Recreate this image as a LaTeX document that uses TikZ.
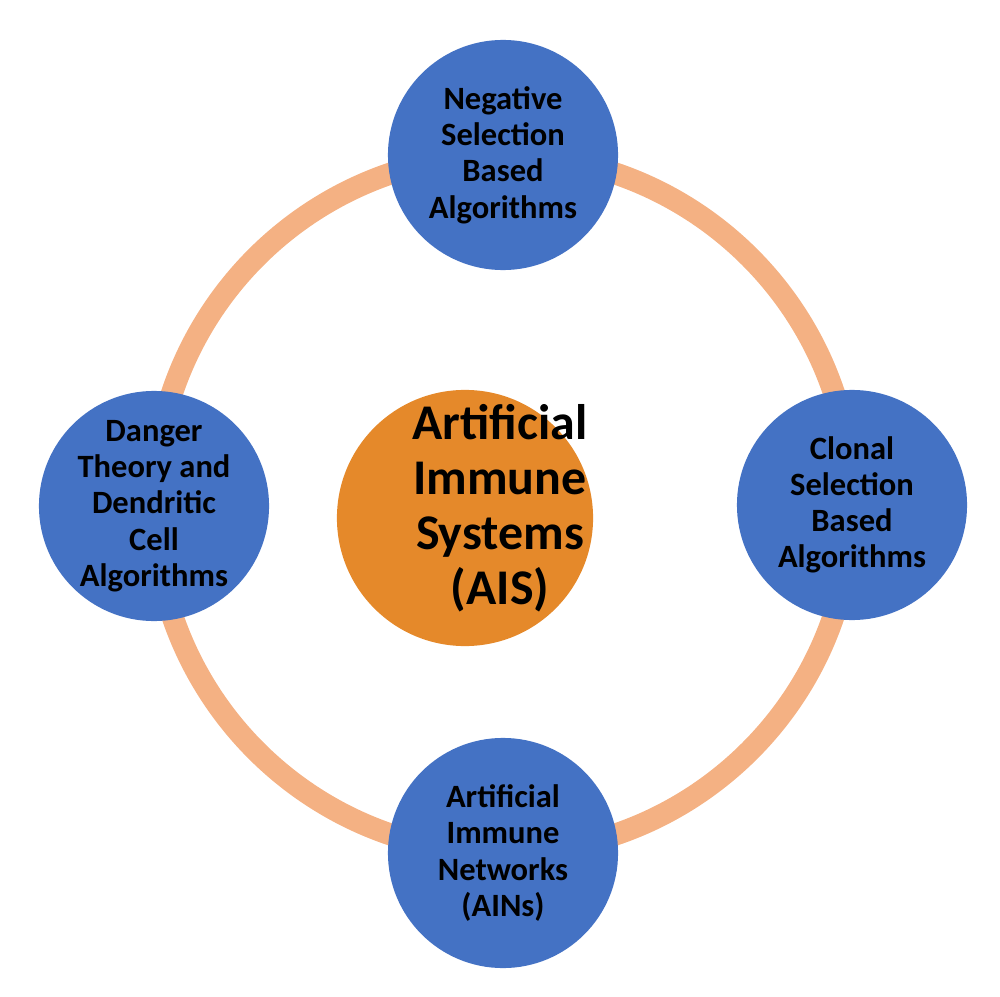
\documentclass[tikz,border=0pt]{standalone}
\usepackage{fontspec}
\setmainfont{Carlito}
\definecolor{ringpeach}{HTML}{F4B183}
\definecolor{nodeblue}{HTML}{4472C4}
\definecolor{huborange}{HTML}{E5892A}
\tikzset{
  algo/.style={circle, fill=nodeblue, draw=none, minimum size=2.3cm, inner sep=0pt,
    align=center, font=\fontsize{9.25}{10.3}\selectfont\bfseries},
  hub/.style={circle, fill=huborange, draw=none, minimum size=2.56cm, inner sep=0pt},
  hubtext/.style={align=center, inner sep=0pt, font=\fontsize{14.2}{15.6}\selectfont\bfseries},
}
\begin{document}
\begin{tikzpicture}[x=0.01cm,y=-0.01cm]
\useasboundingbox (0,0) rectangle (1000,997);
\def\rring{349}

% ring behind the four algorithm families
\coordinate (mid) at (503,504);
\draw[ringpeach, line width=0.22cm] (mid) circle (\rring);

% centre
\node[hub] (ais) at (465,518) {};
\node[hubtext] (aistext) at (500,508) {Artificial\\Immune\\Systems\\(AIS)};

% the four families
\node[algo] (neg) at (503,155) {Negative\\Selection\\Based\\Algorithms};
\node[algo] (clonal) at (852,505) {Clonal\\Selection\\Based\\Algorithms};
\node[algo] (ain) at (503,853) {Artificial\\Immune\\Networks\\(AINs)};
\node[algo] (danger) at (154,506) {Danger\\Theory and\\Dendritic\\Cell\\Algorithms};
\end{tikzpicture}
\end{document}
